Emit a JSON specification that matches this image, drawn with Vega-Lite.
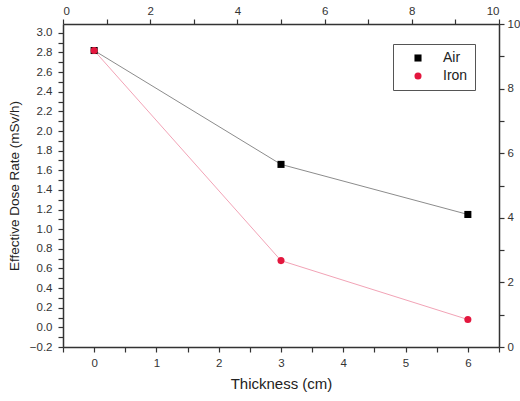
{
  "$schema": "https://vega.github.io/schema/vega-lite/v6.json",
  "width": 436,
  "height": 323,
  "autosize": "none",
  "padding": {"left": 63, "top": 24, "right": 21, "bottom": 54},
  "background": "white",
  "config": {
    "font": "Liberation Sans",
    "view": {"stroke": null},
    "axis": {
      "grid": false,
      "domainColor": "#333",
      "domainWidth": 1.5,
      "tickColor": "#333",
      "tickWidth": 1.2,
      "tickSize": 5,
      "labelColor": "#333",
      "labelFontSize": 11.5,
      "labelOverlap": false,
      "labelPadding": 5,
      "titleColor": "#222",
      "titleFontSize": 13.5,
      "titleFontWeight": "normal"
    }
  },
  "layer": [
    {
      "data": {
        "values": [
          {"material": "Air", "thickness": 0, "dose": 2.82},
          {"material": "Air", "thickness": 3, "dose": 1.66},
          {"material": "Air", "thickness": 6, "dose": 1.15},
          {"material": "Iron", "thickness": 0, "dose": 2.82},
          {"material": "Iron", "thickness": 3, "dose": 0.68},
          {"material": "Iron", "thickness": 6, "dose": 0.08}
        ]
      },
      "encoding": {
        "x": {
          "field": "thickness",
          "type": "quantitative",
          "scale": {"domain": [-0.5, 6.5], "nice": false, "zero": false},
          "axis": {
            "orient": "bottom",
            "title": "Thickness (cm)",
            "titleFontSize": 15,
            "titlePadding": 8,
            "values": [-0.5, 0, 0.5, 1, 1.5, 2, 2.5, 3, 3.5, 4, 4.5, 5, 5.5, 6, 6.5],
            "labelExpr": "round(datum.value*2)%2==0 ? format(datum.value,'d') : ''",
            "encoding": {"ticks": {"y2": {"signal": "round(datum.value*2)%2==0 ? 5 : 3"}}}
          }
        },
        "y": {
          "field": "dose",
          "type": "quantitative",
          "scale": {"domain": [-0.2, 3.09], "nice": false, "zero": false},
          "axis": {
            "orient": "left",
            "title": "Effective Dose Rate (mSv/h)",
            "titlePadding": 8,
            "labelPadding": 6,
            "values": [-0.2, -0.1, 0, 0.1, 0.2, 0.3, 0.4, 0.5, 0.6, 0.7, 0.8, 0.9, 1.0, 1.1, 1.2, 1.3, 1.4, 1.5, 1.6, 1.7, 1.8, 1.9, 2.0, 2.1, 2.2, 2.3, 2.4, 2.5, 2.6, 2.7, 2.8, 2.9, 3.0],
            "labelExpr": "abs(round(datum.value*10))%2==0 ? format(datum.value,'.1f') : ''",
            "encoding": {"ticks": {"x2": {"signal": "abs(round(datum.value*10))%2==0 ? -5 : -3"}}}
          }
        }
      },
      "layer": [
        {
          "mark": {"type": "line", "strokeWidth": 1},
          "encoding": {
            "stroke": {
              "field": "material",
              "type": "nominal",
              "scale": {"domain": ["Air", "Iron"], "range": ["#8c8c8c", "#f2a3b6"]},
              "legend": null
            }
          }
        },
        {
          "mark": {"type": "point", "filled": true, "size": 50, "opacity": 1},
          "encoding": {
            "color": {
              "field": "material",
              "type": "nominal",
              "scale": {"domain": ["Air", "Iron"], "range": ["#000000", "#e3173e"]},
              "legend": {
                "title": null,
                "orient": "none",
                "legendX": 330,
                "legendY": 20,
                "strokeColor": "#555",
                "padding": 7,
                "labelFontSize": 14,
                "labelColor": "#222",
                "symbolOffset": 11,
                "labelOffset": 18,
                "symbolSize": 50,
                "rowPadding": 4
              }
            },
            "shape": {
              "field": "material",
              "type": "nominal",
              "scale": {"domain": ["Air", "Iron"], "range": ["square", "circle"]},
              "legend": null
            }
          }
        }
      ]
    },
    {
      "data": {"values": [{"a": 0, "b": 0}, {"a": 10, "b": 10}]},
      "mark": {"type": "point", "opacity": 0},
      "encoding": {
        "x": {
          "field": "a",
          "type": "quantitative",
          "scale": {"domain": [0, 10], "nice": false},
          "axis": {
            "orient": "top",
            "title": null,
            "labelPadding": 3,
            "values": [0, 1, 2, 3, 4, 5, 6, 7, 8, 9, 10],
            "labelExpr": "round(datum.value)%2==0 ? format(datum.value,'d') : ''",
            "encoding": {"ticks": {"y2": {"signal": "round(datum.value)%2==0 ? 5 : 3"}}}
          }
        },
        "y": {
          "field": "b",
          "type": "quantitative",
          "scale": {"domain": [0, 10], "nice": false},
          "axis": {
            "orient": "right",
            "title": null,
            "labelPadding": 3,
            "values": [0, 1, 2, 3, 4, 5, 6, 7, 8, 9, 10],
            "labelExpr": "round(datum.value)%2==0 ? format(datum.value,'d') : ''",
            "encoding": {"ticks": {"x2": {"signal": "round(datum.value)%2==0 ? 5 : 3"}}}
          }
        }
      }
    }
  ],
  "resolve": {"scale": {"x": "independent", "y": "independent", "color": "independent", "shape": "independent"}}
}
